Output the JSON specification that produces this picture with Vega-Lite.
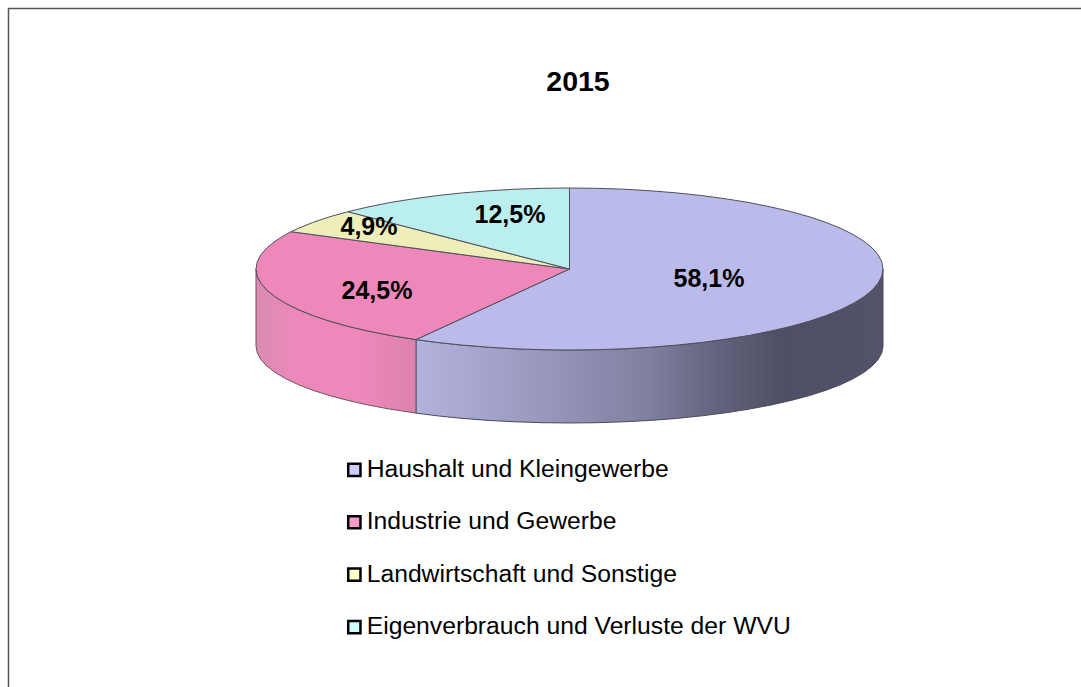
{
"$schema":"https://vega.github.io/schema/vega-lite/v6.json",
"width":1081,"height":687,"padding":0,
"autosize":"none",
"background":"white",
"view":{"stroke":null},
"config":{"font":"Liberation Sans"},
"datasets":{
"frame":[{"i":0,"x":8.5,"y":687},{"i":1,"x":8.5,"y":8.5},{"i":2,"x":1081,"y":8.5}],
"labels":[
{"sector":"Haushalt und Kleingewerbe","share":"58,1%","x":709,"y":279},
{"sector":"Industrie und Gewerbe","share":"24,5%","x":377,"y":291},
{"sector":"Landwirtschaft und Sonstige","share":"4,9%","x":369,"y":227},
{"sector":"Eigenverbrauch und Verluste der WVU","share":"12,5%","x":510,"y":215}],
"sidePurple":[
{"i":0,"x":883,"y":269},{"i":1,"x":881.8,"y":276.1},{"i":2,"x":878.2,"y":283.1},{"i":3,"x":872.3,"y":290},{"i":4,"x":864.1,"y":296.7},{"i":5,"x":853.6,"y":303.2},{"i":6,"x":841,"y":309.5},{"i":7,"x":826.3,"y":315.5},{"i":8,"x":809.7,"y":321.1},{"i":9,"x":791.2,"y":326.3},{"i":10,"x":771,"y":331},{"i":11,"x":749.3,"y":335.4},{"i":12,"x":726.3,"y":339.1},{"i":13,"x":702,"y":342.4},{"i":14,"x":676.7,"y":345.1},{"i":15,"x":650.6,"y":347.2},{"i":16,"x":623.9,"y":348.8},{"i":17,"x":596.8,"y":349.7},{"i":18,"x":569.5,"y":350},{"i":19,"x":542.2,"y":349.7},{"i":20,"x":515.1,"y":348.8},{"i":21,"x":488.4,"y":347.2},{"i":22,"x":462.3,"y":345.1},{"i":23,"x":437,"y":342.4},{"i":24,"x":416,"y":339.6},
{"i":25,"x":416,"y":413.1},{"i":26,"x":437,"y":415.8},{"i":27,"x":462.3,"y":418.4},{"i":28,"x":488.4,"y":420.4},{"i":29,"x":515.1,"y":421.8},{"i":30,"x":542.2,"y":422.7},{"i":31,"x":569.5,"y":423},{"i":32,"x":596.8,"y":422.7},{"i":33,"x":623.9,"y":421.8},{"i":34,"x":650.6,"y":420.4},{"i":35,"x":676.7,"y":418.4},{"i":36,"x":702,"y":415.8},{"i":37,"x":726.3,"y":412.7},{"i":38,"x":749.3,"y":409.1},{"i":39,"x":771,"y":405},{"i":40,"x":791.2,"y":400.4},{"i":41,"x":809.7,"y":395.5},{"i":42,"x":826.3,"y":390.2},{"i":43,"x":841,"y":384.5},{"i":44,"x":853.6,"y":378.5},{"i":45,"x":864.1,"y":372.3},{"i":46,"x":872.3,"y":365.9},{"i":47,"x":878.2,"y":359.4},{"i":48,"x":881.8,"y":352.7},{"i":49,"x":883,"y":346},{"i":50,"x":883,"y":269}],
"sidePink":[
{"i":0,"x":416,"y":339.6},{"i":1,"x":389.7,"y":335.4},{"i":2,"x":368,"y":331},{"i":3,"x":347.8,"y":326.3},{"i":4,"x":329.3,"y":321.1},{"i":5,"x":312.7,"y":315.5},{"i":6,"x":298,"y":309.5},{"i":7,"x":285.4,"y":303.2},{"i":8,"x":274.9,"y":296.7},{"i":9,"x":266.7,"y":290},{"i":10,"x":260.8,"y":283.1},{"i":11,"x":257.2,"y":276.1},{"i":12,"x":256,"y":269},
{"i":13,"x":256,"y":346},{"i":14,"x":257.2,"y":352.7},{"i":15,"x":260.8,"y":359.4},{"i":16,"x":266.7,"y":365.9},{"i":17,"x":274.9,"y":372.3},{"i":18,"x":285.4,"y":378.5},{"i":19,"x":298,"y":384.5},{"i":20,"x":312.7,"y":390.2},{"i":21,"x":329.3,"y":395.5},{"i":22,"x":347.8,"y":400.4},{"i":23,"x":368,"y":405},{"i":24,"x":389.7,"y":409.1},{"i":25,"x":416,"y":413.1},{"i":26,"x":416,"y":339.6}],
"tops":[
{"sector":"Haushalt und Kleingewerbe","i":0,"x":569.5,"y":269},{"sector":"Haushalt und Kleingewerbe","i":1,"x":569.5,"y":188},{"sector":"Haushalt und Kleingewerbe","i":2,"x":596.8,"y":188.3},{"sector":"Haushalt und Kleingewerbe","i":3,"x":623.9,"y":189.2},{"sector":"Haushalt und Kleingewerbe","i":4,"x":650.6,"y":190.8},{"sector":"Haushalt und Kleingewerbe","i":5,"x":676.7,"y":192.9},{"sector":"Haushalt und Kleingewerbe","i":6,"x":702,"y":195.6},{"sector":"Haushalt und Kleingewerbe","i":7,"x":726.3,"y":198.9},{"sector":"Haushalt und Kleingewerbe","i":8,"x":749.3,"y":202.6},{"sector":"Haushalt und Kleingewerbe","i":9,"x":771,"y":207},{"sector":"Haushalt und Kleingewerbe","i":10,"x":791.2,"y":211.7},{"sector":"Haushalt und Kleingewerbe","i":11,"x":809.7,"y":216.9},{"sector":"Haushalt und Kleingewerbe","i":12,"x":826.3,"y":222.5},{"sector":"Haushalt und Kleingewerbe","i":13,"x":841,"y":228.5},{"sector":"Haushalt und Kleingewerbe","i":14,"x":853.6,"y":234.8},{"sector":"Haushalt und Kleingewerbe","i":15,"x":864.1,"y":241.3},{"sector":"Haushalt und Kleingewerbe","i":16,"x":872.3,"y":248},{"sector":"Haushalt und Kleingewerbe","i":17,"x":878.2,"y":254.9},{"sector":"Haushalt und Kleingewerbe","i":18,"x":881.8,"y":261.9},{"sector":"Haushalt und Kleingewerbe","i":19,"x":883,"y":269},{"sector":"Haushalt und Kleingewerbe","i":20,"x":881.8,"y":276.1},{"sector":"Haushalt und Kleingewerbe","i":21,"x":878.2,"y":283.1},{"sector":"Haushalt und Kleingewerbe","i":22,"x":872.3,"y":290},{"sector":"Haushalt und Kleingewerbe","i":23,"x":864.1,"y":296.7},{"sector":"Haushalt und Kleingewerbe","i":24,"x":853.6,"y":303.2},{"sector":"Haushalt und Kleingewerbe","i":25,"x":841,"y":309.5},{"sector":"Haushalt und Kleingewerbe","i":26,"x":826.3,"y":315.5},{"sector":"Haushalt und Kleingewerbe","i":27,"x":809.7,"y":321.1},{"sector":"Haushalt und Kleingewerbe","i":28,"x":791.2,"y":326.3},{"sector":"Haushalt und Kleingewerbe","i":29,"x":771,"y":331},{"sector":"Haushalt und Kleingewerbe","i":30,"x":749.3,"y":335.4},{"sector":"Haushalt und Kleingewerbe","i":31,"x":726.3,"y":339.1},{"sector":"Haushalt und Kleingewerbe","i":32,"x":702,"y":342.4},{"sector":"Haushalt und Kleingewerbe","i":33,"x":676.7,"y":345.1},{"sector":"Haushalt und Kleingewerbe","i":34,"x":650.6,"y":347.2},{"sector":"Haushalt und Kleingewerbe","i":35,"x":623.9,"y":348.8},{"sector":"Haushalt und Kleingewerbe","i":36,"x":596.8,"y":349.7},{"sector":"Haushalt und Kleingewerbe","i":37,"x":569.5,"y":350},{"sector":"Haushalt und Kleingewerbe","i":38,"x":542.2,"y":349.7},{"sector":"Haushalt und Kleingewerbe","i":39,"x":515.1,"y":348.8},{"sector":"Haushalt und Kleingewerbe","i":40,"x":488.4,"y":347.2},{"sector":"Haushalt und Kleingewerbe","i":41,"x":462.3,"y":345.1},{"sector":"Haushalt und Kleingewerbe","i":42,"x":437,"y":342.4},{"sector":"Haushalt und Kleingewerbe","i":43,"x":416,"y":339.6},{"sector":"Haushalt und Kleingewerbe","i":44,"x":569.5,"y":269},
{"sector":"Industrie und Gewerbe","i":0,"x":569.5,"y":269},{"sector":"Industrie und Gewerbe","i":1,"x":416,"y":339.6},{"sector":"Industrie und Gewerbe","i":2,"x":389.7,"y":335.4},{"sector":"Industrie und Gewerbe","i":3,"x":368,"y":331},{"sector":"Industrie und Gewerbe","i":4,"x":347.8,"y":326.3},{"sector":"Industrie und Gewerbe","i":5,"x":329.3,"y":321.1},{"sector":"Industrie und Gewerbe","i":6,"x":312.7,"y":315.5},{"sector":"Industrie und Gewerbe","i":7,"x":298,"y":309.5},{"sector":"Industrie und Gewerbe","i":8,"x":285.4,"y":303.2},{"sector":"Industrie und Gewerbe","i":9,"x":274.9,"y":296.7},{"sector":"Industrie und Gewerbe","i":10,"x":266.7,"y":290},{"sector":"Industrie und Gewerbe","i":11,"x":260.8,"y":283.1},{"sector":"Industrie und Gewerbe","i":12,"x":257.2,"y":276.1},{"sector":"Industrie und Gewerbe","i":13,"x":256,"y":269},{"sector":"Industrie und Gewerbe","i":14,"x":257.2,"y":261.9},{"sector":"Industrie und Gewerbe","i":15,"x":260.8,"y":254.9},{"sector":"Industrie und Gewerbe","i":16,"x":266.7,"y":248},{"sector":"Industrie und Gewerbe","i":17,"x":274.9,"y":241.3},{"sector":"Industrie und Gewerbe","i":18,"x":285.4,"y":234.8},{"sector":"Industrie und Gewerbe","i":19,"x":291,"y":231.7},{"sector":"Industrie und Gewerbe","i":20,"x":569.5,"y":269},
{"sector":"Landwirtschaft und Sonstige","i":0,"x":569.5,"y":269},{"sector":"Landwirtschaft und Sonstige","i":1,"x":291,"y":231.7},{"sector":"Landwirtschaft und Sonstige","i":2,"x":298,"y":228.5},{"sector":"Landwirtschaft und Sonstige","i":3,"x":312.7,"y":222.5},{"sector":"Landwirtschaft und Sonstige","i":4,"x":329.3,"y":216.9},{"sector":"Landwirtschaft und Sonstige","i":5,"x":347.8,"y":211.7},{"sector":"Landwirtschaft und Sonstige","i":6,"x":569.5,"y":269},
{"sector":"Eigenverbrauch und Verluste der WVU","i":0,"x":569.5,"y":269},{"sector":"Eigenverbrauch und Verluste der WVU","i":1,"x":347.8,"y":211.7},{"sector":"Eigenverbrauch und Verluste der WVU","i":2,"x":368,"y":207},{"sector":"Eigenverbrauch und Verluste der WVU","i":3,"x":389.7,"y":202.6},{"sector":"Eigenverbrauch und Verluste der WVU","i":4,"x":412.8,"y":198.9},{"sector":"Eigenverbrauch und Verluste der WVU","i":5,"x":437,"y":195.6},{"sector":"Eigenverbrauch und Verluste der WVU","i":6,"x":462.3,"y":192.9},{"sector":"Eigenverbrauch und Verluste der WVU","i":7,"x":488.4,"y":190.8},{"sector":"Eigenverbrauch und Verluste der WVU","i":8,"x":515.1,"y":189.2},{"sector":"Eigenverbrauch und Verluste der WVU","i":9,"x":542.2,"y":188.3},{"sector":"Eigenverbrauch und Verluste der WVU","i":10,"x":569.5,"y":188},{"sector":"Eigenverbrauch und Verluste der WVU","i":11,"x":569.5,"y":269}]
},
"encoding":{
"x":{"field":"x","type":"quantitative","scale":{"domain":[0,1081],"nice":false,"zero":false},"axis":null},
"y":{"field":"y","type":"quantitative","scale":{"domain":[687,0],"nice":false,"zero":false},"axis":null}
},
"layer":[
{"data":{"name":"frame"},"mark":{"type":"line","stroke":"#555555","strokeWidth":1.5,"clip":false},"encoding":{"order":{"field":"i","type":"quantitative"}}},
{"data":{"name":"sidePurple"},"mark":{"type":"line","stroke":"#4a4a5c","strokeWidth":1,"fill":{"gradient":"linear","x1":0,"y1":0,"x2":1,"y2":0,"stops":[{"offset":0,"color":"#B2B2DE"},{"offset":0.3,"color":"#9595BA"},{"offset":0.5,"color":"#7F7F9F"},{"offset":0.65,"color":"#62627C"},{"offset":0.78,"color":"#4F4F66"},{"offset":1,"color":"#52526A"}]}},"encoding":{"order":{"field":"i","type":"quantitative"}}},
{"data":{"name":"sidePink"},"mark":{"type":"line","stroke":"#6a5560","strokeWidth":1,"fill":{"gradient":"linear","x1":0,"y1":0,"x2":1,"y2":0,"stops":[{"offset":0,"color":"#D98CB0"},{"offset":0.25,"color":"#EE88BB"},{"offset":0.65,"color":"#EE88BB"},{"offset":1,"color":"#DC82AC"}]}},"encoding":{"order":{"field":"i","type":"quantitative"}}},
{"data":{"name":"tops"},"mark":{"type":"line","stroke":"#4f4f5a","strokeWidth":1},"encoding":{"order":{"field":"i","type":"quantitative"},"detail":{"field":"sector"},"fill":{"field":"sector","type":"nominal","legend":null,"scale":{"domain":["Haushalt und Kleingewerbe","Industrie und Gewerbe","Landwirtschaft und Sonstige","Eigenverbrauch und Verluste der WVU"],"range":["#BBBBEB","#EE88BB","#EEEEBB","#BBEEEE"]}}}},
{"data":{"name":"labels"},"mark":{"type":"point","filled":true,"size":0,"opacity":1},"encoding":{"color":{"field":"sector","type":"nominal","scale":{"domain":["Haushalt und Kleingewerbe","Industrie und Gewerbe","Landwirtschaft und Sonstige","Eigenverbrauch und Verluste der WVU"],"range":["#CCCCFF","#FF99CC","#FFFFCC","#CCFFFF"]},"legend":{"title":null,"orient":"none","legendX":342,"legendY":457.5,"symbolType":"square","symbolSize":150,"symbolStrokeWidth":2.5,"symbolStrokeColor":"#000000","symbolOpacity":1,"labelFontSize":24.7,"labelFont":"Liberation Sans","labelColor":"#000000","labelLimit":600,"labelOffset":0,"rowPadding":26.4,"padding":0,"encode":{"symbols":{"update":{"stroke":{"value":"#000000"},"strokeWidth":{"value":2.5},"opacity":{"value":1}}}}}}}},
{"data":{"name":"labels"},"mark":{"type":"text","font":"Liberation Sans","fontWeight":"bold","fontSize":25,"color":"#000000","align":"center","baseline":"middle"},"encoding":{"text":{"field":"share","type":"nominal"}}},
{"data":{"values":[{"label":"2015","x":578,"y":82}]},"mark":{"type":"text","font":"Liberation Sans","fontWeight":"bold","fontSize":28.5,"color":"#000000","align":"center","baseline":"middle"},"encoding":{"text":{"field":"label","type":"nominal"}}}
],
"resolve":{"scale":{"color":"independent"}}
}
